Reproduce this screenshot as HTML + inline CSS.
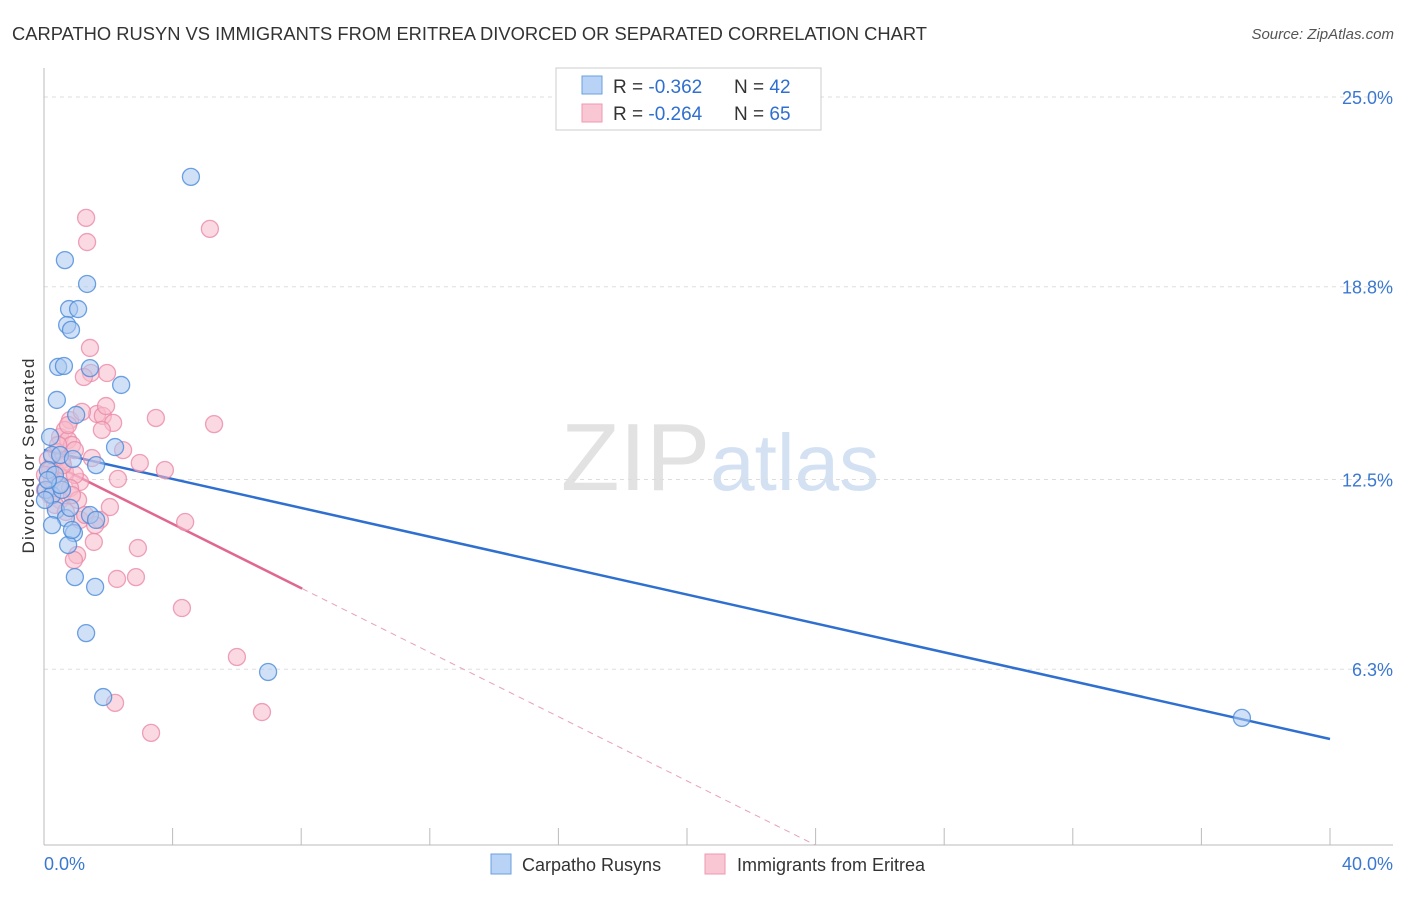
<!DOCTYPE html>
<html><head><meta charset="utf-8"><style>
body{margin:0;background:#fff;font-family:"Liberation Sans",sans-serif}
svg text{font-family:"Liberation Sans",sans-serif}
</style></head><body>
<svg id="chart" width="1406" height="892" viewBox="0 0 1406 892" xmlns="http://www.w3.org/2000/svg">
<text x="12" y="40" font-size="18" fill="#333" textLength="915" lengthAdjust="spacingAndGlyphs">CARPATHO RUSYN VS IMMIGRANTS FROM ERITREA DIVORCED OR SEPARATED CORRELATION CHART</text>
<text x="1394" y="39" font-size="15" fill="#555" text-anchor="end" font-style="italic">Source: ZipAtlas.com</text>
<text x="720" y="490" font-size="96" text-anchor="middle" fill="#e2e2e2" font-family="Liberation Serif"><tspan fill="#e2e2e2">ZIP</tspan><tspan fill="#d3e1f3" font-family="Liberation Sans" font-size="80">atlas</tspan></text>
<text transform="translate(34,456) rotate(-90)" font-size="17" fill="#333" text-anchor="middle" textLength="195">Divorced or Separated</text>
<g id="grid"></g><g id="axes"></g><g id="lines"></g><g id="pts"></g>
<g>
<rect x="556" y="68" width="265" height="62" fill="#fff" stroke="#ccc"/>
<rect x="582" y="76" width="20" height="18" fill="#b8d3f5" stroke="#6aa0e0"/>
<rect x="582" y="104" width="20" height="18" fill="#f9c6d4" stroke="#ee98b0"/>
<text x="613" y="93" font-size="19" fill="#333">R = <tspan fill="#2f6fd0">-0.362</tspan></text>
<text x="734" y="93" font-size="19" fill="#333">N = <tspan fill="#2f6fd0">42</tspan></text>
<text x="613" y="120" font-size="19" fill="#333">R = <tspan fill="#2f6fd0">-0.264</tspan></text>
<text x="734" y="120" font-size="19" fill="#333">N = <tspan fill="#2f6fd0">65</tspan></text>
</g>
<g>
<rect x="491" y="854" width="20" height="20" fill="#b8d3f5" stroke="#6aa0e0"/>
<text x="522" y="871" font-size="18" fill="#333">Carpatho Rusyns</text>
<rect x="705" y="854" width="20" height="20" fill="#f9c6d4" stroke="#ee98b0"/>
<text x="737" y="871" font-size="18" fill="#333">Immigrants from Eritrea</text>
</g>
</svg>
<script>
const yTicks=[25.0,18.8,12.5,6.3];
const yTickLabels=["25.0%","18.8%","12.5%","6.3%"];
const xTickLabels=["0.0%","40.0%"];
const blueX=[4.57,0.65,1.34,0.78,1.06,0.72,0.84,0.44,0.62,1.43,2.40,0.40,1.0,2.21,0.19,0.25,0.50,1.62,0.90,0.12,0.34,0.06,0.25,0.56,0.37,0.68,1.43,1.62,0.93,0.25,0.75,0.96,1.59,1.31,1.84,6.97,37.26,0.81,0.50,0.12,0.87,0.03];
const blueY=[22.39,19.67,18.89,18.07,18.07,17.55,17.39,16.18,16.21,16.14,15.59,15.10,14.61,13.56,13.89,13.30,13.30,12.97,13.17,12.81,12.65,12.16,11.99,12.16,11.50,11.24,11.34,11.18,10.75,11.01,10.36,9.31,8.99,7.48,5.39,6.21,4.71,11.57,12.32,12.48,10.85,11.83];
const pinkX=[1.31,1.34,5.16,1.43,1.46,1.96,1.24,0.81,0.50,1.65,1.83,1.18,2.15,1.93,3.48,5.29,0.65,0.75,0.87,0.40,0.56,0.96,2.46,0.34,0.65,0.44,1.12,0.96,2.98,3.76,2.30,0.03,0.19,0.25,0.81,0.50,2.05,1.06,1.12,1.74,4.39,1.55,2.92,1.03,0.93,2.27,2.86,4.29,6.0,2.21,6.78,3.33,0.12,0.34,0.68,1.28,1.59,0.59,0.19,0.87,0.03,0.44,0.75,1.49,1.80];
const pinkY=[21.05,20.26,20.69,16.80,15.98,15.98,15.85,14.44,13.89,14.64,14.58,14.71,14.35,14.90,14.51,14.31,14.12,13.79,13.63,13.40,13.14,13.46,13.46,12.81,12.75,12.32,12.42,12.65,13.04,12.81,12.52,12.16,11.99,12.48,12.22,11.83,11.60,11.83,11.18,11.18,11.11,10.46,10.26,10.03,9.87,9.25,9.31,8.30,6.70,5.20,4.90,4.22,13.14,11.67,11.44,11.34,11.01,12.97,12.81,11.99,12.65,13.63,14.28,13.20,14.12];
const blueReg=[13.46,4.02];
const pinkReg=[13.15,-0.525];
const X=v=>44+v*32.15, Y=v=>862-v*30.6;
const NS="http://www.w3.org/2000/svg";
function mk(g,t,a){const e=document.createElementNS(NS,t);for(const k in a)e.setAttribute(k,a[k]);document.getElementById(g).appendChild(e);return e;}
yTicks.forEach((t,i)=>{
 const l=mk('grid','line',{x1:44,x2:1393,y1:Y(t),y2:Y(t),stroke:'#ddd','stroke-dasharray':'4,4'});
 
 
 const tx=mk('axes','text',{x:1393,y:Y(t)+7,'font-size':18,fill:'#3a78d0','text-anchor':'end'});
 tx.textContent=yTickLabels[i];
 
 
});
const ya=mk('axes','line',{x1:44,x2:44,y1:68,y2:845,stroke:'#bbb'});


const xa=mk('axes','line',{x1:44,x2:1393,y1:845,y2:845,stroke:'#bbb'});


for(let i=0;i<=10;i++){const t=mk('axes','line',{x1:X(i*4),x2:X(i*4),y1:828,y2:845,stroke:'#bbb'});
 
 }
[[0,"start"],[40,"end"]].forEach((d,i)=>{const t=mk('axes','text',{x:i?1393:44,y:870,'font-size':18,fill:'#3a78d0','text-anchor':d[1]});
 t.textContent=xTickLabels[i];
 
 });
function pts(xs,ys,fill,stroke,name){xs.forEach((x,i)=>{const c=mk('pts','circle',{cx:X(x),cy:Y(ys[i]),r:8.5,fill:fill,'fill-opacity':0.55,stroke:stroke,'stroke-width':1.3,'stroke-opacity':0.8});
 
 });}
pts(pinkX,pinkY,'#f7b9cb','#ea8aa8','eritrea-point');
pts(blueX,blueY,'#a9c9f0','#4a8ad8','rusyn-point');
const bl=mk('lines','line',{x1:X(0),y1:Y(blueReg[0]),x2:X(40),y2:Y(blueReg[1]),stroke:'#2f6fd0','stroke-width':2.5});


const pe=8.03, pEnd=(pinkReg[0]-0.56)/(-pinkReg[1]);
const pl=mk('lines','line',{x1:X(0),y1:Y(pinkReg[0]),x2:X(pe),y2:Y(pinkReg[0]+pinkReg[1]*pe),stroke:'#e06890','stroke-width':2.5});


const pd=mk('lines','line',{x1:X(pe),y1:Y(pinkReg[0]+pinkReg[1]*pe),x2:X(pEnd),y2:Y(0.56),stroke:'#e8a0b8','stroke-width':1,'stroke-dasharray':'6,5'});


</script>
</body></html>
